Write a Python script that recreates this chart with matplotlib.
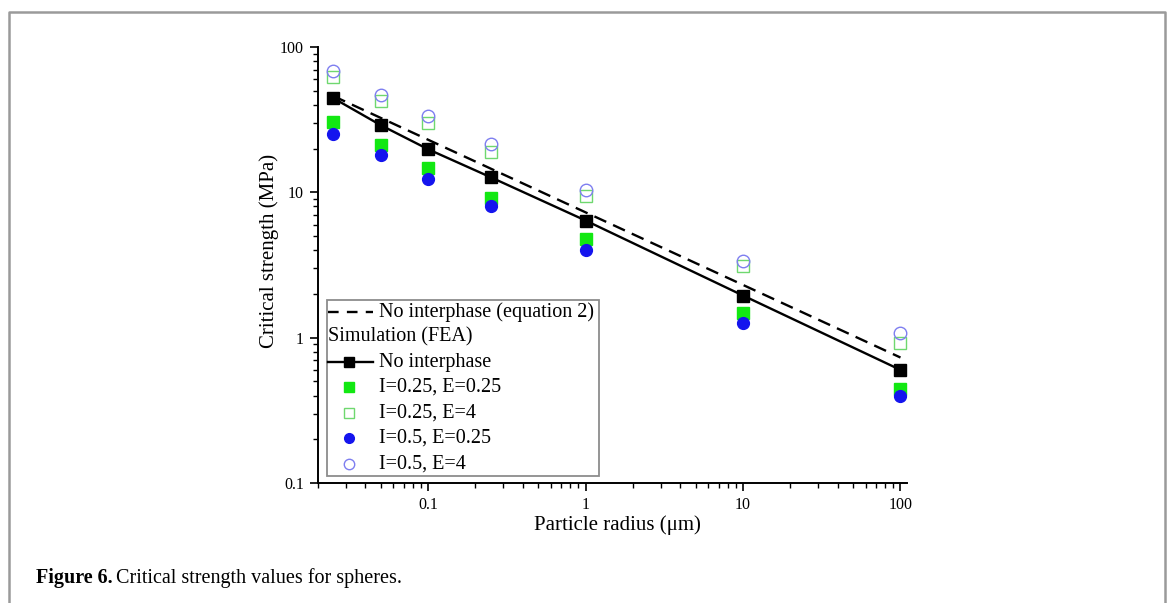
import matplotlib
matplotlib.use('Agg')
import matplotlib.pyplot as plt
from matplotlib.lines import Line2D
from matplotlib.patches import Rectangle
from matplotlib.ticker import FixedLocator, FuncFormatter, LogLocator, NullFormatter

plt.rcParams['font.family'] = ['Liberation Serif', 'DejaVu Serif']

# particle radius (um)
radius = [0.025, 0.05, 0.1, 0.25, 1, 10, 100]

# analytical curve, equation 2 (straight line on log-log)
eq2_radius = [0.025, 100]
eq2_strength = [46.0, 0.73]

# FEA critical strength (MPa)
no_interphase = [44.5, 29.0, 19.8, 12.7, 6.4, 1.95, 0.60]
i025_e025 = [30.4, 21.1, 14.6, 9.2, 4.8, 1.48, 0.44]
i025_e4 = [61.8, 42.6, 30.0, 18.9, 9.4, 3.09, 0.92]
i05_e025 = [25.1, 18.0, 12.4, 8.0, 3.98, 1.26, 0.40]
i05_e4 = [68.0, 46.4, 33.4, 21.5, 10.4, 3.38, 1.08]

yticks = [0.1, 1, 10, 100]
xticks = [0.1, 1, 10, 100]

GREEN = '#12e812'
GREEN_OPEN = '#6fd86f'
BLUE = '#1414ee'
BLUE_OPEN = '#7e7ef0'

W, H = 1171, 603
fig = plt.figure(figsize=(W / 100, H / 100), dpi=100)
ax = fig.add_axes([318 / W, 1 - 483 / H, 589 / W, 436 / H])

dash = (0, (5.5, 3.2))
ax.plot(eq2_radius, eq2_strength, color='black', lw=1.7, linestyle=dash)
ax.plot(radius, no_interphase, color='black', lw=1.7, marker='s', ms=8)
ax.plot(radius, i025_e4, ls='none', marker='s', ms=8, mfc='none', mec=GREEN_OPEN, mew=1.0)
ax.plot(radius, i05_e4, ls='none', marker='o', ms=9, mfc='none', mec=BLUE_OPEN, mew=1.0)
ax.plot(radius, i025_e025, ls='none', marker='s', ms=8, color=GREEN)
ax.plot(radius, i05_e025, ls='none', marker='o', ms=8.5, color=BLUE)

ax.set_xscale('log')
ax.set_yscale('log')
ax.set_xlim(0.02, 110)
ax.set_ylim(0.1, 100)

fmt = FuncFormatter(lambda v, _: f'{v:g}')
ax.xaxis.set_major_locator(FixedLocator(xticks))
ax.yaxis.set_major_locator(FixedLocator(yticks))
ax.xaxis.set_major_formatter(fmt)
ax.yaxis.set_major_formatter(fmt)
for axis in (ax.xaxis, ax.yaxis):
    axis.set_minor_locator(LogLocator(base=10, subs=range(2, 10), numticks=20))
    axis.set_minor_formatter(NullFormatter())

ax.tick_params(which='major', direction='out', length=6, width=1.2, labelsize=11.5, pad=4)
ax.tick_params(which='minor', direction='out', length=3.5, width=1.0)
for side in ('top', 'right'):
    ax.spines[side].set_visible(False)
for side in ('left', 'bottom'):
    ax.spines[side].set_linewidth(1.4)

ax.set_xlabel('Particle radius (μm)', fontsize=15)
ax.set_ylabel('Critical strength (MPa)', fontsize=15)
ax.xaxis.set_label_coords(0.509, -0.073)
ax.yaxis.set_label_coords(-0.066, 0.532)

# legend drawn by hand so the "Simulation (FEA)" header sits flush left
def axpos(px, py):
    return (px - 318) / 589, (483 - py) / 436

x0, y0 = axpos(327, 476)
x1, y1 = axpos(599, 300)
ax.add_patch(Rectangle((x0, y0), x1 - x0, y1 - y0, transform=ax.transAxes,
                       fill=False, edgecolor='#8c8c8c', lw=1.3, clip_on=False, zorder=5))

hx0, _ = axpos(328, 0)
hx1, _ = axpos(373, 0)
mx, _ = axpos(349, 0)
tx, _ = axpos(379, 0)
leg_fs = 14.5

_, ry = axpos(0, 312)
ax.plot([hx0, hx1], [ry, ry], transform=ax.transAxes, color='black', lw=1.7,
        linestyle=(0, (4.5, 3.5)), clip_on=False, zorder=6)
ax.text(tx, ry, 'No interphase (equation 2)', transform=ax.transAxes, fontsize=leg_fs, va='center')

_, ry = axpos(0, 337)
ax.text(hx0, ry, 'Simulation (FEA)', transform=ax.transAxes, fontsize=leg_fs, va='center')

_, ry = axpos(0, 362)
ax.plot([hx0, hx1], [ry, ry], transform=ax.transAxes, color='black', lw=1.7, clip_on=False, zorder=6)
ax.plot([mx], [ry], transform=ax.transAxes, marker='s', ms=6.5, color='black', clip_on=False, zorder=6)
ax.text(tx, ry, 'No interphase', transform=ax.transAxes, fontsize=leg_fs, va='center')

entries = [
    (387, 'I=0.25, E=0.25', dict(marker='s', ms=6.5, color=GREEN)),
    (413, 'I=0.25, E=4', dict(marker='s', ms=6.5, mfc='none', mec=GREEN_OPEN, mew=1.0)),
    (438, 'I=0.5, E=0.25', dict(marker='o', ms=7, color=BLUE)),
    (464, 'I=0.5, E=4', dict(marker='o', ms=7.5, mfc='none', mec=BLUE_OPEN, mew=1.0)),
]
for py, label, style in entries:
    _, ry = axpos(0, py)
    ax.plot([mx], [ry], transform=ax.transAxes, ls='none', clip_on=False, zorder=6, **style)
    ax.text(tx, ry, label, transform=ax.transAxes, fontsize=leg_fs, va='center')

# grey frame round the figure panel
fig.add_artist(Line2D([9 / W, 9 / W, 1165 / W, 1165 / W], [0, 1 - 12 / H, 1 - 12 / H, 0],
                      transform=fig.transFigure, color='#9a9a9a', lw=1.8))

# caption
cap_y = 1 - 578 / H
bold = fig.text(36 / W, cap_y, 'Figure 6.', fontsize=14.5, fontweight='bold', va='center')
fig.canvas.draw()
bb = bold.get_window_extent()
fig.text((bb.x1 + 3) / W, cap_y, 'Critical strength values for spheres.', fontsize=14.5, va='center')

fig.savefig('out.png', dpi=100)
